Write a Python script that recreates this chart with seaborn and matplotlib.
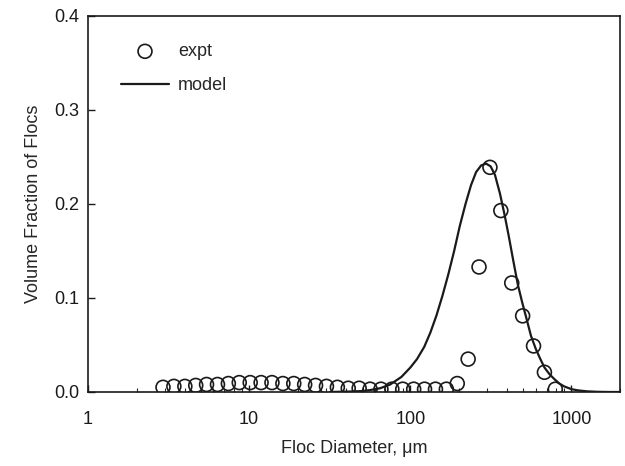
import numpy as np
import pandas as pd
import matplotlib
matplotlib.use("Agg")
import matplotlib.pyplot as plt
import seaborn as sns
from matplotlib.ticker import LogLocator, NullFormatter

expt_diam = [2.92, 3.41, 3.99, 4.66, 5.44, 6.36, 7.43, 8.68, 10.15, 11.86,
             13.85, 16.19, 18.91, 22.10, 25.82, 30.17, 35.26, 41.19, 48.14, 56.25,
             65.72, 76.79, 89.72, 104.9, 122.5, 143.2, 167.3, 195.5, 228.4, 266.9,
             311.9, 364.4, 425.8, 497.6, 581.4, 679.3, 793.7]
expt_frac = [0.005, 0.006, 0.006, 0.007, 0.008, 0.008, 0.009, 0.010, 0.010, 0.010,
             0.010, 0.009, 0.009, 0.008, 0.007, 0.006, 0.005, 0.004, 0.004, 0.003,
             0.003, 0.003, 0.003, 0.003, 0.003, 0.003, 0.003, 0.009, 0.035, 0.133,
             0.239, 0.193, 0.116, 0.081, 0.049, 0.021, 0.003]

# model curve
model_diam = [31.7, 42, 50, 56, 65, 75, 88, 100, 110, 122, 133, 145, 158, 172,
              187, 203, 220, 238, 256, 275, 295, 315, 335, 360, 385, 410, 435,
              465, 495, 526, 560, 600, 637, 680, 730, 780, 840, 900, 1000, 1100,
              1250, 1450, 1700, 2000]
model_frac = [0.0, 0.0005, 0.001, 0.002, 0.004, 0.008, 0.016, 0.026, 0.035, 0.048,
              0.063, 0.081, 0.102, 0.125, 0.150, 0.177, 0.200, 0.220, 0.234, 0.241,
              0.243, 0.240, 0.231, 0.211, 0.188, 0.164, 0.140, 0.114, 0.095, 0.078,
              0.060, 0.046, 0.036, 0.026, 0.019, 0.014, 0.009, 0.006, 0.003, 0.0017,
              0.0007, 0.0002, 0.0, 0.0]

sns.set_style("ticks")
plt.rcParams['font.family'] = ['Liberation Sans', 'DejaVu Sans']

expt = pd.DataFrame({'d': expt_diam, 'v': expt_frac})
model = pd.DataFrame({'d': model_diam, 'v': model_frac})

fig = plt.figure(figsize=(6.25, 4.66), dpi=100)
ax = fig.add_axes([0.1408, 0.1588, 0.8512, 0.8069])

sns.lineplot(data=model, x='d', y='v', ax=ax, color='#1a1a1a', lw=1.6,
             sort=False, estimator=None, label='model', zorder=2)
sns.scatterplot(data=expt, x='d', y='v', ax=ax, marker='o', s=100,
                facecolor='none', edgecolor='#1a1a1a', linewidth=1.2,
                label='expt', zorder=3)

ax.set_xscale('log')
ax.set_xlim(1, 2000)
ax.set_ylim(0, 0.4)
ax.set_xticks([1, 10, 100, 1000])
ax.set_xticklabels(['1', '10', '100', '1000'])
ax.xaxis.set_minor_locator(LogLocator(base=10, subs=np.arange(2, 10)))
ax.xaxis.set_minor_formatter(NullFormatter())
ax.set_yticks([0.0, 0.1, 0.2, 0.3, 0.4])
ax.set_yticklabels(['0.0', '0.1', '0.2', '0.3', '0.4'])

ax.tick_params(axis='both', which='major', direction='in', length=5, width=1,
               labelsize=13, colors='#1a1a1a')
ax.tick_params(axis='x', which='major', pad=14)
ax.tick_params(axis='y', which='major', pad=6)
ax.tick_params(axis='x', which='minor', direction='in', length=3, width=0.8)
for s in ax.spines.values():
    s.set_linewidth(1.2)
    s.set_color('#1a1a1a')

ax.set_xlabel('Floc Diameter, μm', fontsize=13, labelpad=8)
ax.set_ylabel('Volume Fraction of Flocs', fontsize=13, labelpad=9)

h, l = ax.get_legend_handles_labels()
order = [l.index('expt'), l.index('model')]
ax.legend([h[i] for i in order], [l[i] for i in order], loc='upper left',
          bbox_to_anchor=(0.062, 0.928), frameon=False, fontsize=13,
          handlelength=2.66, handletextpad=0.5, labelspacing=0.95,
          borderpad=0, borderaxespad=0)

fig.savefig('out.png', dpi=100)
